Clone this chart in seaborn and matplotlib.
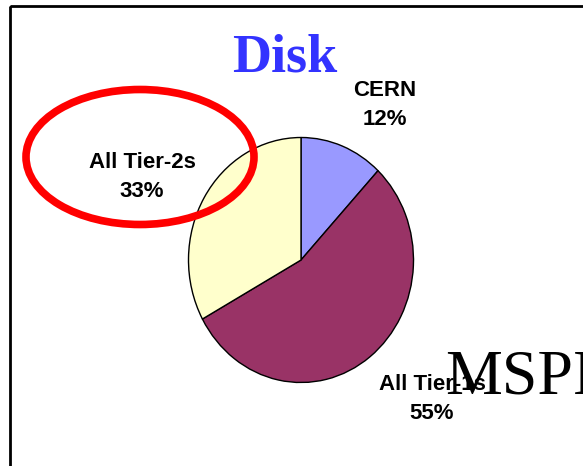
import matplotlib.pyplot as plt
import seaborn as sns
from matplotlib.patches import Ellipse, Rectangle

# --- Data ---
sites = ["CERN", "All Tier-1s", "All Tier-2s"]
shares = [12, 55, 33]
slice_colors = ["#9999FF", "#993366", "#FFFFCC"]

# label centres in pixel space (x, y from top)
label_pos = [(385, 105), (432, 399), (142, 177)]

W, H = 583, 466

sns.set_style("white")
plt.rcParams['font.family'] = ['Liberation Sans', 'DejaVu Sans']

fig = plt.figure(figsize=(W / 100, H / 100), dpi=100)
fig.patch.set_facecolor("white")

# --- Pie (slightly taller than wide, as in the slide) ---
cx, cy, rx, ry = 301, 260, 112.5, 122.5
ax = fig.add_axes([(cx - rx) / W, (H - cy - ry) / H, 2 * rx / W, 2 * ry / H])
ax.pie(shares, colors=slice_colors, startangle=90, counterclock=False,
       wedgeprops=dict(edgecolor="black", linewidth=1.0))
ax.set_aspect("auto")
ax.set_xlim(-1, 1)
ax.set_ylim(-1, 1)
ax.axis("off")

# --- Overlay in pixel coordinates ---
ov = fig.add_axes([0, 0, 1, 1], zorder=5)
ov.set_xlim(0, W)
ov.set_ylim(H, 0)
ov.axis("off")
ov.patch.set_alpha(0)

# slide frame
ov.add_patch(Rectangle((9.5, 5.5), 700, 600, fill=False, edgecolor="black", linewidth=2.0))

# title
ov.text(285, 72, "Disk", ha="center", va="baseline", color="#3333FF",
        fontsize=39, fontweight="bold", family="Liberation Serif")

# slice labels
for name, val, (lx, ly) in zip(sites, shares, label_pos):
    ov.text(lx, ly, f"{name}\n{val}%", ha="center", va="center", fontsize=16,
            fontweight="bold", linespacing=1.55, color="black")

# red highlight ellipse
ov.add_patch(Ellipse((140, 157), 228, 135, fill=False, edgecolor="#FF0000", linewidth=5.5))

# stray footer text from the slide
ov.text(445, 393, "MSPI", ha="left", va="baseline", fontsize=46,
        family="Liberation Serif", color="black")

fig.savefig("out.png", dpi=100)
